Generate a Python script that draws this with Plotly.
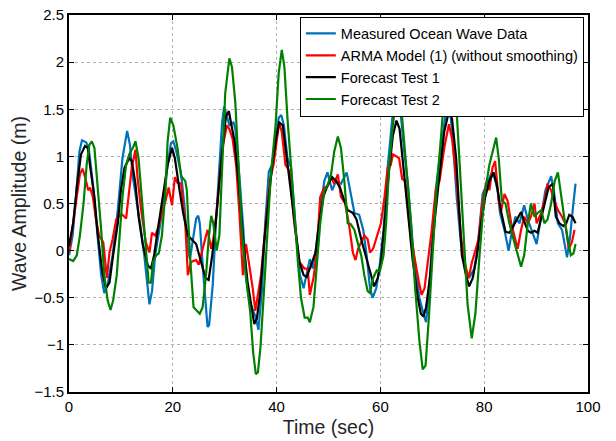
import plotly.graph_objects as go

# Measured ocean wave record (time in s, amplitude in m)
measured_t = [0.0, 0.7, 1.35, 2.0, 2.5, 3.3, 3.8, 4.6, 5.5, 6.2,
              6.8, 7.45, 8.4, 9.4, 10.3, 11.2, 11.75, 12.3, 12.9, 13.7,
              14.5, 15.2, 15.5, 16.0, 16.6, 17.4, 18.2, 19.0, 19.65, 20.1,
              20.7, 21.6, 22.2, 22.9, 23.3, 23.8, 24.5, 24.9, 25.2, 25.9,
              26.7, 27.0, 27.7, 28.3, 29.0, 29.5, 29.9, 30.4, 30.9, 31.7,
              32.05, 32.8, 33.6, 34.1, 34.75, 35.5, 36.0, 36.5, 37.2, 37.8,
              38.5, 39.1, 39.8, 40.4, 40.9, 41.4, 42.1, 42.8, 43.7, 44.5,
              45.2, 45.8, 46.4, 46.95, 47.6, 48.4, 49.2, 49.8, 50.7, 51.45,
              52.4, 53.5, 54.3, 55.0, 55.9, 56.7, 57.35, 58.0, 58.5, 59.2,
              59.8, 60.6, 61.4, 62.4, 63.1, 63.8, 64.6, 65.3, 66.3, 67.5,
              68.5, 68.8, 69.4, 70.1, 70.8, 71.7, 72.6, 73.3, 73.9, 74.7,
              75.5, 76.4, 77.1, 78.1, 78.7, 79.7, 80.5, 81.3, 81.95, 82.6,
              83.05, 83.9, 84.7, 85.2, 86.0, 86.8, 87.7, 88.4, 89.3, 90.1,
              90.95, 91.8, 92.9, 93.5, 94.2, 95.0, 95.96, 96.5, 97.05, 97.6]
measured_v = [-0.05, 0.16, 0.57, 1.05, 1.17, 1.15, 1.09, 0.71, 0.16, -0.26,
              -0.45, -0.36, -0.05, 0.43, 0.98, 1.27, 1.12, 0.78, 0.57, 0.29,
              -0.05, -0.47, -0.57, -0.43, -0.05, 0.22, 0.5, 0.91, 1.14, 1.16,
              1.05, 0.81, 0.5, 0.02, -0.09, 0.09, 0.34, 0.37, 0.29, -0.26,
              -0.81, -0.79, -0.36, 0.29, 0.91, 1.36, 1.53, 1.43, 1.33, 1.36,
              1.29, 0.81, 0.22, -0.26, -0.53, -0.64, -0.71, -0.84, -0.4, 0.29,
              0.84, 0.91, 1.16, 1.41, 1.44, 1.33, 0.98, 0.88, 0.22, -0.26,
              -0.4, -0.26, -0.09, -0.19, 0.02, 0.43, 0.74, 0.83, 0.64, 0.74,
              0.71, 0.83, 0.6, 0.4, 0.38, 0.22, -0.05, -0.4, -0.5, -0.4,
              -0.19, 0.22, 0.88, 1.47, 1.63, 1.52, 1.05, 0.71, 0.02, -0.5,
              -0.71, -0.76, -0.4, 0.22, 0.71, 1.09, 1.47, 1.56, 1.22, 0.57,
              0.09, -0.19, -0.29, -0.19, 0.02, 0.6, 0.71, 0.81, 0.78, 0.64,
              0.4, 0.22, 0.0, 0.16, 0.36, 0.29, 0.48, 0.33, 0.19, 0.07,
              0.36, 0.64, 0.79, 0.6, 0.29, 0.22, -0.07, 0.12, 0.43, 0.71]

# ARMA model (1), no smoothing
arma_t = [0.0, 0.8, 1.5, 2.1, 2.6, 3.1, 3.7, 4.05, 4.6, 5.2,
          5.8, 6.6, 7.3, 7.8, 8.4, 9.1, 9.7, 10.3, 11.0, 11.5,
          12.1, 12.8, 13.2, 13.9, 14.8, 15.5, 16.0, 16.6, 17.3, 18.0,
          18.6, 19.2, 19.85, 20.4, 20.9, 21.6, 22.4, 22.9, 23.5, 24.5,
          25.0, 25.75, 26.7, 27.4, 27.8, 28.5, 29.1, 29.7, 30.4, 30.9,
          31.5, 32.2, 32.8, 33.5, 34.1, 34.75, 35.4, 35.9, 36.35, 37.0,
          37.8, 38.7, 39.4, 40.0, 40.5, 41.0, 41.7, 42.5, 43.4, 44.4,
          45.35, 46.0, 46.4, 47.1, 47.7, 48.4, 49.2, 49.8, 50.5, 51.1,
          51.8, 52.4, 53.2, 54.0, 54.7, 55.2, 55.7, 56.3, 56.9, 57.55,
          58.0, 58.6, 59.3, 60.1, 60.8, 61.4, 62.0, 62.4, 63.1, 63.6,
          64.2, 64.8, 65.6, 66.5, 67.4, 67.95, 68.5, 69.1, 69.9, 70.7,
          71.4, 72.3, 73.2, 73.8, 74.6, 75.5, 76.2, 77.0, 77.65, 78.3,
          78.9, 79.7, 80.5, 81.0, 81.6, 82.1, 82.8, 83.2, 83.9, 84.5,
          85.2, 85.8, 86.45, 87.1, 87.7, 88.4, 89.0, 89.7, 90.1, 91.0,
          91.8, 92.2, 92.9, 93.5, 94.2, 95.0, 95.6, 96.3, 96.9, 97.4]
arma_v = [-0.02, 0.29, 0.57, 0.81, 0.87, 0.78, 0.64, 0.67, 0.57, 0.33,
          0.16, 0.09, -0.29, -0.02, 0.12, 0.33, 0.37, 0.38, 0.34, 0.57,
          0.88, 1.07, 0.78, 0.43, 0.09, -0.02, 0.19, 0.16, 0.26, 0.43,
          0.53, 0.67, 0.48, 0.78, 0.72, 0.71, 0.29, -0.26, -0.12, -0.1,
          -0.15, 0.02, 0.22, 0.02, 0.12, 0.43, 0.84, 1.12, 1.33, 1.29,
          1.19, 0.91, 0.43, -0.26, 0.07, -0.16, -0.4, -0.64, -0.47, -0.26,
          0.22, 0.74, 0.91, 1.16, 1.36, 1.26, 0.91, 0.84, 0.29, -0.12,
          -0.19, -0.19, -0.47, -0.29, -0.05, 0.57, 0.67, 0.68, 0.78, 0.71,
          0.81, 0.57, 0.5, 0.26, -0.02, -0.1, 0.02, 0.09, 0.16, 0.12,
          -0.02, 0.02, 0.16, 0.29, 0.57, 0.88, 0.91, 1.02, 1.0, 0.98,
          0.76, 0.74, 0.29, -0.05, -0.33, -0.47, -0.4, -0.12, 0.22, 0.67,
          0.74, 1.09, 1.34, 1.19, 0.78, 0.16, -0.12, -0.29, -0.12, 0.0,
          0.12, 0.53, 0.74, 0.64, 0.88, 0.95, 0.53, 0.41, 0.6, 0.53,
          0.29, 0.16, 0.02, 0.22, 0.36, 0.29, 0.36, 0.5, 0.29, 0.4,
          0.57, 0.71, 0.64, 0.53, 0.43, 0.36, 0.29, 0.02, 0.09, 0.22]

# Forecast test 1
test1_t = [0.0, 0.8, 1.5, 2.3, 3.1, 3.6, 4.2, 4.9, 5.5, 6.4,
           7.1, 7.8, 8.5, 9.4, 10.0, 10.7, 11.6, 12.1, 12.8, 13.4,
           14.2, 15.2, 15.8, 16.4, 17.1, 18.0, 19.0, 19.85, 20.4, 21.3,
           22.0, 22.9, 23.7, 24.5, 25.0, 25.4, 26.3, 26.9, 27.6, 28.2,
           28.8, 29.5, 30.25, 30.8, 31.2, 31.9, 32.7, 33.6, 34.4, 35.1,
           35.7, 36.2, 36.8, 37.6, 38.5, 39.1, 39.9, 40.5, 41.2, 41.8,
           42.8, 43.6, 44.4, 45.2, 45.8, 46.6, 47.5, 48.2, 49.0, 49.8,
           50.7, 51.45, 52.2, 53.05, 53.7, 54.7, 55.4, 56.3, 57.1, 57.9,
           58.8, 59.5, 60.1, 60.8, 61.6, 62.4, 63.1, 63.7, 64.4, 65.3,
           66.2, 67.2, 67.8, 68.3, 68.8, 69.6, 70.4, 71.4, 72.3, 73.2,
           73.8, 74.6, 75.2, 75.7, 76.5, 77.1, 77.8, 78.6, 79.4, 80.2,
           81.0, 81.8, 82.4, 83.2, 84.1, 84.85, 85.6, 86.45, 87.1, 87.7,
           88.4, 89.0, 89.7, 90.3, 91.0, 91.6, 92.4, 93.2, 93.8, 94.5,
           95.25, 95.8, 96.4, 97.0, 97.6]
test1_v = [0.05, 0.29, 0.67, 1.02, 1.11, 1.09, 0.84, 0.57, 0.19, -0.22,
           -0.4, -0.34, -0.05, 0.29, 0.64, 0.88, 0.98, 0.95, 0.71, 0.36,
           0.07, -0.16, -0.19, -0.05, 0.22, 0.53, 0.91, 1.09, 0.98, 0.64,
           0.4, 0.16, 0.12, 0.07, -0.03, -0.12, -0.29, -0.31, -0.05, 0.26,
           0.64, 1.05, 1.43, 1.48, 1.36, 1.16, 0.71, 0.09, -0.33, -0.57,
           -0.78, -0.72, -0.47, 0.09, 0.57, 0.88, 1.19, 1.36, 1.33, 1.05,
           0.64, 0.22, -0.12, -0.26, -0.28, -0.16, -0.02, 0.29, 0.57, 0.69,
           0.78, 0.74, 0.67, 0.53, 0.43, 0.4, 0.33, 0.12, -0.05, -0.22,
           -0.38, -0.29, -0.12, 0.29, 0.81, 1.22, 1.38, 1.29, 0.91, 0.43,
           -0.09, -0.5, -0.67, -0.7, -0.6, -0.26, 0.29, 0.81, 1.26, 1.48,
           1.4, 0.98, 0.45, -0.05, -0.26, -0.38, -0.29, -0.05, 0.29, 0.57,
           0.74, 0.83, 0.71, 0.43, 0.2, 0.19, 0.26, 0.34, 0.41, 0.31,
           0.21, 0.19, 0.21, 0.19, 0.36, 0.5, 0.67, 0.71, 0.36, 0.29,
           0.26, 0.29, 0.38, 0.36, 0.29]

# Forecast test 2
test2_t = [0.0, 0.8, 1.5, 2.1, 2.8, 3.4, 3.9, 4.4, 4.9, 5.5,
           6.2, 6.8, 7.45, 8.0, 8.5, 9.2, 9.7, 10.3, 11.0, 11.6,
           12.3, 12.8, 13.4, 14.1, 14.7, 15.35, 15.8, 16.2, 16.8, 17.3,
           17.9, 18.6, 19.0, 19.5, 20.1, 20.9, 21.6, 22.4, 22.7, 23.3,
           24.0, 24.6, 25.2, 25.75, 26.4, 26.9, 27.4, 27.8, 28.45, 28.97,
           29.5, 30.1, 30.9, 31.4, 32.05, 32.7, 33.3, 34.1, 34.9, 35.5,
           36.0, 36.4, 36.9, 37.6, 38.3, 38.9, 39.8, 40.4, 41.0, 41.5,
           42.1, 42.8, 43.4, 44.1, 44.7, 45.4, 46.0, 46.4, 47.1, 47.7,
           48.4, 49.2, 49.8, 50.5, 51.1, 51.8, 52.4, 53.05, 53.7, 54.3,
           55.0, 55.6, 56.3, 56.9, 57.55, 58.0, 58.6, 59.3, 59.9, 60.6,
           61.1, 61.7, 62.4, 63.0, 63.5, 64.2, 64.9, 65.9, 66.7, 67.5,
           68.15, 68.7, 69.3, 70.1, 70.8, 71.7, 72.3, 73.2, 74.25, 74.6,
           75.2, 75.9, 76.8, 77.6, 78.3, 79.1, 80.0, 81.0, 81.6, 82.3,
           82.8, 83.4, 84.1, 84.85, 85.8, 86.45, 87.1, 87.7, 88.4, 89.0,
           89.7, 90.3, 91.0, 91.6, 92.2, 92.9, 93.6, 94.2, 94.8, 95.4,
           96.1, 96.7, 97.2, 97.6]
test2_v = [-0.09, -0.11, -0.05, 0.16, 0.5, 0.91, 1.12, 1.16, 1.09, 0.71,
           0.22, -0.26, -0.53, -0.63, -0.53, -0.26, 0.16, 0.57, 0.91, 1.02,
           1.09, 1.16, 0.98, 0.5, 0.02, -0.34, -0.34, -0.12, -0.05, -0.03,
           0.16, 0.64, 1.16, 1.41, 1.33, 1.09, 0.79, 0.74, 0.64, -0.05,
           -0.6, -0.64, -0.67, -0.6, -0.26, 0.12, 0.37, 0.29, 0.0, 0.16,
           0.81, 1.67, 2.04, 1.95, 1.57, 0.91, 0.22, -0.29, -0.64, -1.09,
           -1.31, -1.29, -1.02, -0.4, 0.22, 0.81, 1.33, 1.88, 2.13, 1.95,
           1.4, 0.91, 0.43, -0.12, -0.5, -0.71, -0.71, -0.76, -0.6, -0.19,
           0.29, 0.64, 0.69, 0.81, 1.05, 1.21, 1.09, 0.74, 0.29, 0.28,
           0.22, 0.09, -0.05, -0.26, -0.43, -0.45, -0.29, -0.21, -0.22, -0.05,
           0.29, 0.91, 1.33, 1.6, 1.59, 1.4, 0.91, 0.29, -0.4, -0.95,
           -1.26, -1.22, -0.74, -0.05, 0.64, 1.22, 1.67, 2.0, 1.71, 1.57,
           0.98, 0.29, -0.57, -0.93, -0.67, -0.05, 0.57, 0.91, 1.05, 1.2,
           0.98, 0.53, 0.5, 0.29, 0.09, -0.05, -0.17, -0.05, 0.29, 0.5,
           0.36, 0.4, 0.43, 0.29, 0.33, 0.5, 0.74, 0.83, 0.57, 0.36,
           0.12, -0.05, -0.03, 0.07]

series = [
    ("Measured Ocean Wave Data", measured_t, measured_v, "#0072BD"),
    ("ARMA Model (1) (without smoothing)", arma_t, arma_v, "#FF0000"),
    ("Forecast Test 1", test1_t, test1_v, "#000000"),
    ("Forecast Test 2", test2_t, test2_v, "#008000"),
]

x_ticks = [0, 20, 40, 60, 80, 100]
y_ticks = [-1.5, -1, -0.5, 0, 0.5, 1, 1.5, 2, 2.5]

FONT = "Liberation Sans, Arial, sans-serif"

fig = go.Figure()
for name, t, v, color in series:
    fig.add_trace(go.Scatter(x=t, y=v, mode="lines", name=name,
                             line=dict(color=color, width=2.2)))

axis_common = dict(
    showline=True, linecolor="black", linewidth=2, mirror="allticks",
    ticks="inside", ticklen=5, tickwidth=1, tickcolor="black",
    showgrid=True, gridcolor="#b0b0b0", gridwidth=1, griddash="dot",
    zeroline=False, ticklabeloverflow="allow",
    tickfont=dict(family=FONT, size=15, color="black"),
)

fig.update_layout(
    width=616, height=441,
    margin=dict(l=69, r=28, t=6, b=49),
    paper_bgcolor="white", plot_bgcolor="white",
    font=dict(family=FONT, color="black"),
    showlegend=True,
    legend=dict(x=0.992, y=0.996, xanchor="right", yanchor="top",
                bgcolor="white", bordercolor="black", borderwidth=1,
                font=dict(family=FONT, size=14.5, color="black"),
                tracegroupgap=0),
    xaxis=dict(range=[0, 100], tickvals=x_ticks,
               title=dict(text="Time (sec)", standoff=6,
                          font=dict(family=FONT, size=19.5, color="#262626")),
               **axis_common),
    yaxis=dict(range=[-1.5, 2.5], tickvals=y_ticks,
               title=dict(text="Wave Amplitude (m)", standoff=3,
                          font=dict(family=FONT, size=19.5, color="#262626")),
               **axis_common),
)

fig.write_html("out.html")
